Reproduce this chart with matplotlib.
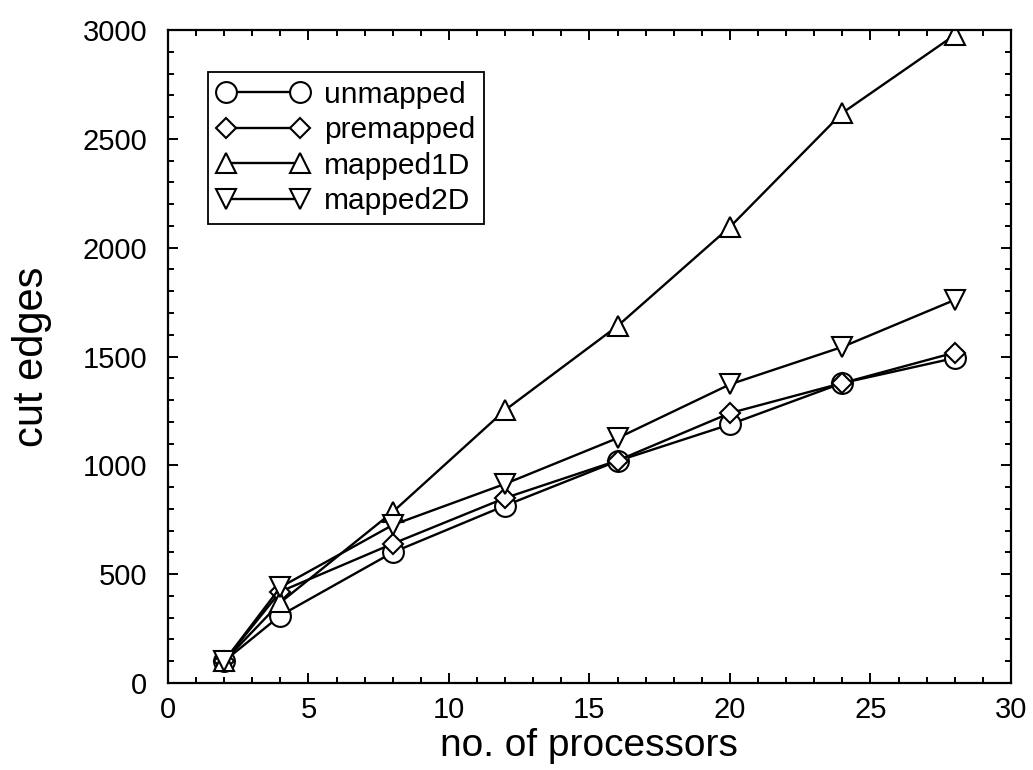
import numpy as np
import matplotlib
matplotlib.use("Agg")
import matplotlib.pyplot as plt
from matplotlib.ticker import MultipleLocator

## Data
procs = [2, 4, 8, 12, 16, 20, 24, 28]
unmapped = [100, 310, 600, 815, 1020, 1188, 1378, 1493]
premapped = [100, 420, 640, 850, 1022, 1240, 1378, 1518]
mapped1D = [100, 370, 786, 1254, 1640, 2095, 2619, 2977]
mapped2D = [100, 440, 726, 915, 1125, 1372, 1544, 1760]

series = [
    ("unmapped", unmapped, "o"),
    ("premapped", premapped, "D"),
    ("mapped1D", mapped1D, "^"),
    ("mapped2D", mapped2D, "v"),
]

plt.rcParams['font.family'] = ['Liberation Sans', 'DejaVu Sans']

fig = plt.figure(figsize=(10.33, 7.7), dpi=100)
ax = fig.add_axes([0.1626, 0.113, 0.816, 0.848])

for name, vals, mk in series:
    ms = 10.2 if mk == "D" else 15
    ax.plot(procs, vals, color="black", linewidth=1.7, marker=mk, markersize=ms,
            markerfacecolor="white", markeredgecolor="black", markeredgewidth=1.5,
            label=name)

ax.set_xlim(0, 30)
ax.set_ylim(0, 3000)
ax.xaxis.set_major_locator(MultipleLocator(5))
ax.xaxis.set_minor_locator(MultipleLocator(1))
ax.yaxis.set_major_locator(MultipleLocator(500))
ax.yaxis.set_minor_locator(MultipleLocator(100))
ax.tick_params(which="both", direction="in", top=True, right=True, width=1.4)
ax.tick_params(which="major", length=7, labelsize=21)
ax.tick_params(axis="x", which="major", pad=9.5)
ax.tick_params(axis="y", which="major", pad=15)
ax.tick_params(which="minor", length=4)
for s in ax.spines.values():
    s.set_linewidth(1.6)

ax.set_xlabel("no. of processors", fontsize=28, labelpad=3)
ax.set_ylabel("cut edges", fontsize=30, labelpad=22)

leg = ax.legend(loc="upper left", bbox_to_anchor=(0.047, 0.936), fontsize=21.5,
                numpoints=2, handlelength=3.1, handletextpad=0.5, labelspacing=0.25,
                borderpad=0.3, borderaxespad=0, fancybox=False, framealpha=1,
                edgecolor="black")
leg.get_frame().set_linewidth(1.3)

fig.savefig("out.png", dpi=100)
